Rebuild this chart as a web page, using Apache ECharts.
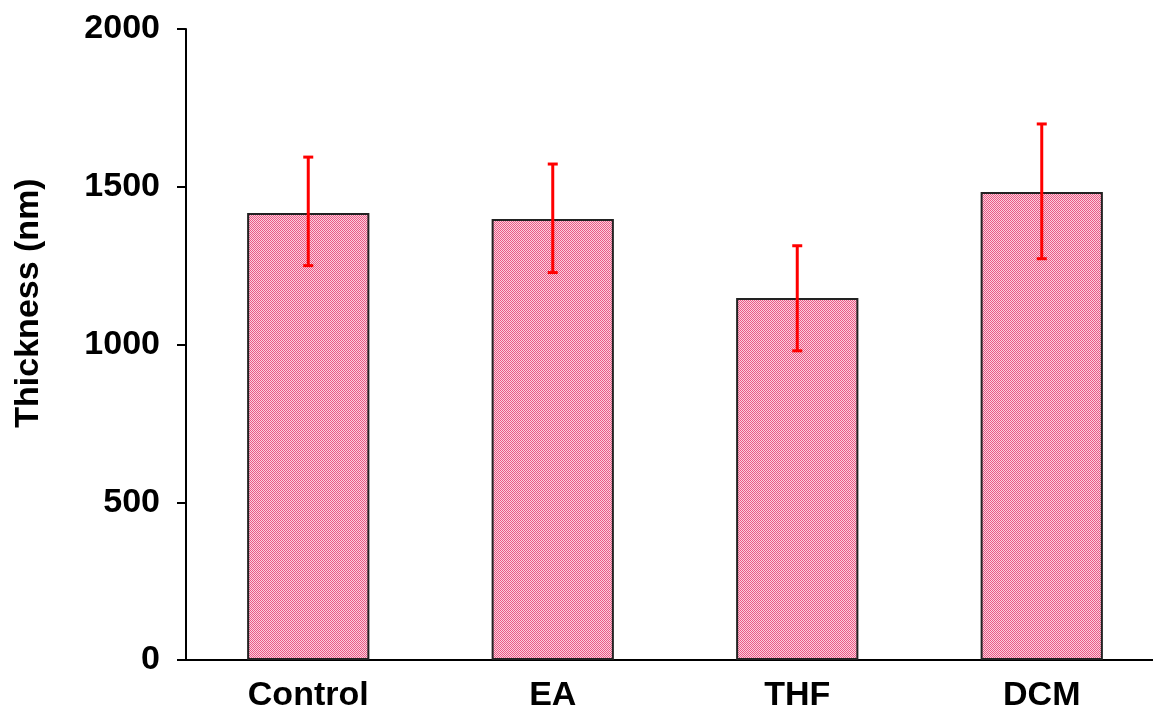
<!DOCTYPE html>
<html>
<head>
<meta charset="utf-8">
<script src="https://cdn.jsdelivr.net/npm/echarts@6/dist/echarts.min.js"></script>
<style>
html,body{margin:0;padding:0;background:#fff;}
#chart{width:1153px;height:713px;}
</style>
</head>
<body>
<div id="chart"></div>
<script>
// Film thickness by solvent treatment (mean ± error)
const categories = ['Control', 'EA', 'THF', 'DCM'];
const thickness = [1417, 1398, 1147, 1483];
const errUpper = [1594, 1572, 1313, 1699];
const errLower = [1250, 1228, 980, 1272];
const yTicks = [0, 500, 1000, 1500, 2000];
const yTitle = 'Thickness (nm)';

// dithered pink fill for the bars
function makePattern() {
  const c = document.createElement('canvas');
  c.width = 2; c.height = 2;
  const g = c.getContext('2d');
  g.fillStyle = '#fbd0dc'; g.fillRect(0, 0, 2, 2);
  g.fillStyle = '#ea5a86'; g.fillRect(0, 0, 1, 1); g.fillRect(1, 1, 1, 1);
  return c;
}

const chart = echarts.init(document.getElementById('chart'));
const font = 'Liberation Sans, Arial, sans-serif';

chart.setOption({
  animation: false,
  grid: { left: 186, top: 29, right: -11, bottom: 53, containLabel: false, outerBoundsMode: 'none' },
  graphic: [{
    type: 'text',
    x: 29, y: 303,
    rotation: Math.PI / 2,
    style: {
      text: yTitle, fill: '#000', font: 'bold 34px ' + font,
      align: 'center', verticalAlign: 'middle'
    }
  }],
  xAxis: {
    type: 'category',
    data: categories,
    axisLine: { lineStyle: { color: '#000', width: 2 } },
    axisTick: { show: false },
    axisLabel: { color: '#000', fontFamily: font, fontWeight: 'bold', fontSize: 34, margin: 19 }
  },
  yAxis: {
    type: 'value',
    min: yTicks[0], max: yTicks[yTicks.length - 1], interval: 500,
    axisLine: { show: true, lineStyle: { color: '#000', width: 2 } },
    axisTick: { show: true, inside: false, length: 9, lineStyle: { color: '#000', width: 2 } },
    splitLine: { show: false },
    axisLabel: {
      color: '#000', fontFamily: font, fontWeight: 'bold', fontSize: 34, margin: 26,
      formatter: v => String(v)
    }
  },
  series: [
    {
      type: 'bar',
      data: thickness,
      barWidth: '50%',
      itemStyle: {
        color: { image: makePattern(), repeat: 'repeat' },
        borderColor: '#222',
        borderWidth: 2
      }
    },
    {
      type: 'custom',
      data: categories.map((c, i) => [i, errLower[i], errUpper[i]]),
      z: 10,
      renderItem: function (params, api) {
        const lo = api.coord([api.value(0), api.value(1)]);
        const hi = api.coord([api.value(0), api.value(2)]);
        const cap = 5;
        const style = { stroke: '#ff0000', lineWidth: 3 };
        return {
          type: 'group',
          children: [
            { type: 'line', shape: { x1: hi[0], y1: hi[1], x2: lo[0], y2: lo[1] }, style: style },
            { type: 'line', shape: { x1: hi[0] - cap, y1: hi[1], x2: hi[0] + cap, y2: hi[1] }, style: style },
            { type: 'line', shape: { x1: lo[0] - cap, y1: lo[1], x2: lo[0] + cap, y2: lo[1] }, style: style }
          ]
        };
      }
    }
  ]
});
</script>
</body>
</html>
